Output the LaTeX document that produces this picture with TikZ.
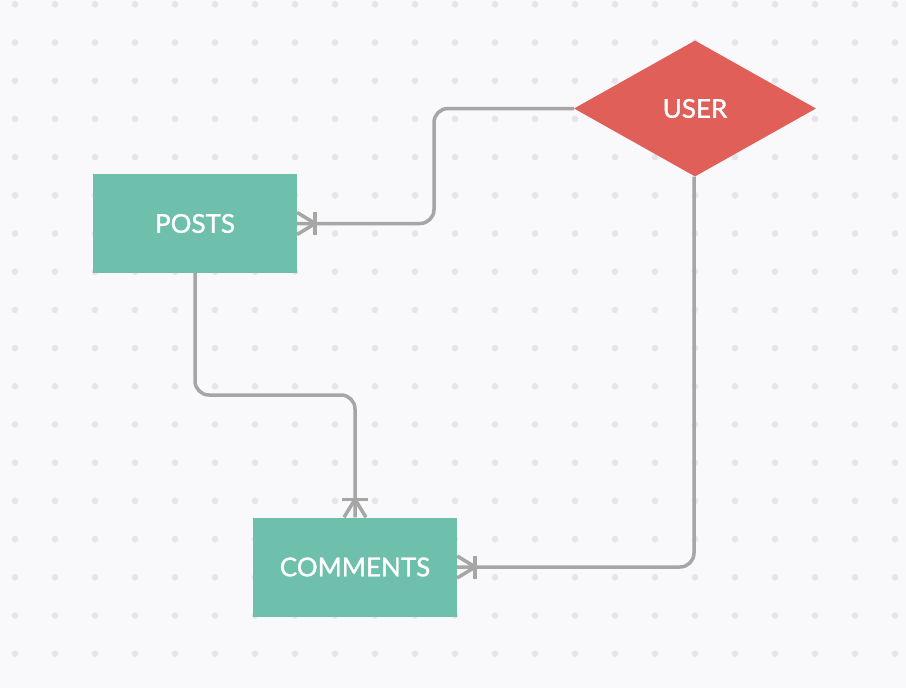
\documentclass[tikz,border=0pt]{standalone}
\usepackage{fontspec}
\setmainfont{Lato}
\newfontfamily\labelfont[FakeBold=1.2]{Lato}
\usetikzlibrary{shapes.geometric,calc}
\definecolor{bgc}{HTML}{F9F9FC}
\definecolor{dotc}{HTML}{E4E4E9}
\definecolor{tealc}{HTML}{6EBFAC}
\definecolor{redc}{HTML}{E05F59}
\definecolor{linec}{HTML}{A6A6A6}
\tikzset{
  entity/.style={rectangle, fill=tealc, minimum width=204pt, minimum height=99pt, inner sep=0pt, text=white, font=\labelfont\fontsize{26}{30}\selectfont},
  relation/.style={diamond, fill=redc, minimum width=242pt, minimum height=136pt, inner sep=0pt, text=white, font=\labelfont\fontsize{26}{30}\selectfont},
  conn/.style={draw=linec, line width=3.5pt, rounded corners=14pt},
  foot/.style={draw=linec, line width=3.5pt}
}
\begin{document}
\begin{tikzpicture}[x=1pt,y=-1pt]
\fill[bgc] (0,0) rectangle (906,688);
\useasboundingbox (0,0) rectangle (906,688);
\foreach \i in {0,...,22}{
  \foreach \j in {0,...,17}{
    \fill[dotc] ({15+40*\i},{4.3+38.2*\j}) circle (3.3pt);
  }
}
\node[entity] (posts) at (195,223.5) {POSTS};
\node[entity] (comments) at (355,567) {COMMENTS};
\node[relation] (user) at (695,108.5) {USER};
% connectors
\coordinate (p1) at (434,108.5);
\coordinate (c2) at (355,395);
\draw[conn] (user.west) -- (p1) -- (p1 |- posts.east) -- (posts.east);
\draw[conn] (posts.south) -- (posts.south |- c2) -- (c2) -- (comments.north);
\draw[conn] ([xshift=-1pt]user.south) -- ([xshift=-1pt]user.south |- comments.east) -- (comments.east);
% crow's feet: posts
\draw[foot] ($(posts.east)+(0,-11)$) -- ($(posts.east)+(18,0)$) -- ($(posts.east)+(0,11)$);
\draw[foot] ($(posts.east)+(18,-11.5)$) -- ($(posts.east)+(18,11.5)$);
% comments top
\draw[foot] ($(comments.north)+(-11,0)$) -- ($(comments.north)+(0,-18)$) -- ($(comments.north)+(11,0)$);
\draw[foot] ($(comments.north)+(-13,-18)$) -- ($(comments.north)+(13,-18)$);
% comments right
\draw[foot] ($(comments.east)+(0,-11)$) -- ($(comments.east)+(18,0)$) -- ($(comments.east)+(0,11)$);
\draw[foot] ($(comments.east)+(18,-11.5)$) -- ($(comments.east)+(18,11.5)$);
\end{tikzpicture}
\end{document}
